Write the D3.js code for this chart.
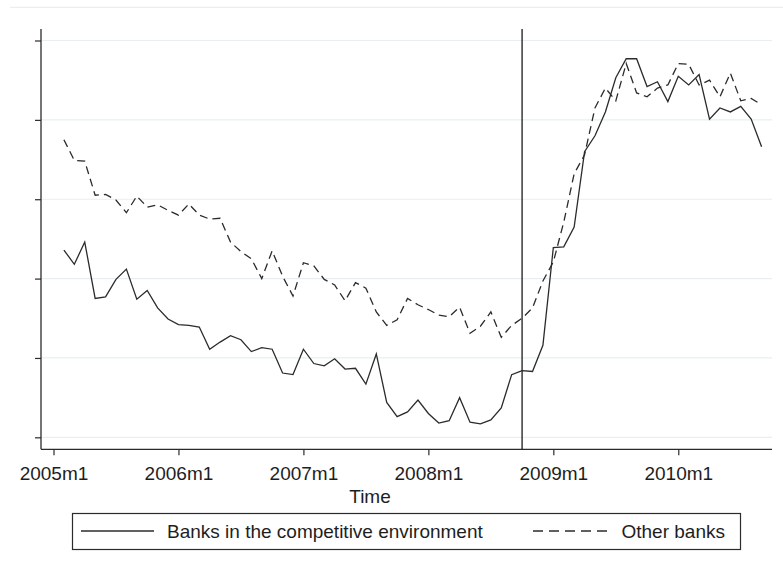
<!DOCTYPE html>
<html>
<head>
<meta charset="utf-8">
<script src="https://cdn.jsdelivr.net/npm/d3@7"></script>
<style>
  html, body { margin: 0; padding: 0; background: #fff; }
  svg { display: block; }
  text { font-family: "Liberation Sans", Arial, sans-serif; fill: #1e1e1e; }
</style>
</head>
<body>
<svg id="chart" width="783" height="562"></svg>
<script>
// Monthly series, first observation 2005m2 (month 1 counted from 2005m1)
const firstMonth = 1;

// Banks in the competitive environment
const competitive = [
  2.36, 2.18, 2.46, 1.75, 1.77, 1.99, 2.12, 1.74, 1.85, 1.63, 1.49,
  1.42, 1.41, 1.39, 1.11, 1.20, 1.28, 1.23, 1.08, 1.13, 1.11, 0.81, 0.79,
  1.11, 0.93, 0.90, 0.99, 0.86, 0.87, 0.67, 1.05, 0.44, 0.26, 0.32, 0.47,
  0.30, 0.18, 0.21, 0.50, 0.19, 0.17, 0.22, 0.37, 0.79, 0.84, 0.83, 1.16,
  2.39, 2.40, 2.65, 3.60, 3.80, 4.10, 4.53, 4.77, 4.77, 4.42, 4.48, 4.23,
  4.55, 4.44, 4.57, 4.01, 4.15, 4.10, 4.17, 4.01, 3.66
];

// Other banks
const otherBanks = [
  3.75, 3.49, 3.48, 3.05, 3.06, 2.99, 2.83, 3.04, 2.90, 2.93, 2.86,
  2.80, 2.94, 2.80, 2.75, 2.76, 2.46, 2.34, 2.25, 2.00, 2.35, 2.03, 1.78,
  2.20, 2.16, 1.99, 1.92, 1.72, 1.95, 1.88, 1.58, 1.41, 1.48, 1.75, 1.67,
  1.61, 1.54, 1.52, 1.64, 1.31, 1.40, 1.58, 1.26, 1.41, 1.50, 1.63, 1.97,
  2.21, 2.71, 3.32, 3.56, 4.15, 4.40, 4.24, 4.71, 4.34, 4.29, 4.40, 4.44,
  4.71, 4.70, 4.44, 4.50, 4.29, 4.59, 4.24, 4.27, 4.19
];

// Axis ticks
const xTickMonths = [0, 12, 24, 36, 48, 60];
const xTickLabels = ["2005m1", "2006m1", "2007m1", "2008m1", "2009m1", "2010m1"];
const yTicks = [0, 1, 2, 3, 4, 5];
const breakMonth = 45; // 2008m10 reference line

const legendLabels = ["Banks in the competitive environment", "Other banks"];

const svg = d3.select("#chart");

const plot = { left: 41, right: 772, top: 29, bottom: 449.3 };

const x = d3.scaleLinear().domain([-1.2, 69]).range([plot.left, plot.right]);
const y = d3.scaleLinear().domain([-0.151, 5.145]).range([plot.bottom, plot.top]);

const ink = "#2b2b2b";
const gridColor = "#e6eff1";

// Outer region edge at the top
svg.append("line")
  .attr("x1", 10).attr("x2", 783)
  .attr("y1", 7.3).attr("y2", 7.3)
  .attr("stroke", gridColor).attr("stroke-width", 1.2);

// Horizontal gridlines
svg.append("g")
  .selectAll("line")
  .data(yTicks)
  .join("line")
  .attr("x1", plot.left).attr("x2", plot.right)
  .attr("y1", d => y(d)).attr("y2", d => y(d))
  .attr("stroke", gridColor).attr("stroke-width", 1.2);

// Y axis (ticks without labels)
const yAxis = svg.append("g")
  .attr("transform", `translate(${plot.left},0)`)
  .call(d3.axisLeft(y).tickValues(yTicks).tickSize(6).tickFormat(""));
yAxis.select(".domain").remove();
yAxis.selectAll(".tick line").attr("stroke", ink).attr("stroke-width", 1.2);
svg.append("line")
  .attr("x1", plot.left).attr("x2", plot.left)
  .attr("y1", plot.top).attr("y2", plot.bottom)
  .attr("stroke", ink).attr("stroke-width", 1.3);

// X axis
const xAxis = svg.append("g")
  .attr("transform", `translate(0,${plot.bottom})`)
  .call(d3.axisBottom(x)
    .tickValues(xTickMonths)
    .tickSize(6)
    .tickPadding(11)
    .tickFormat((d, i) => xTickLabels[i]));
xAxis.select(".domain").remove();
xAxis.selectAll(".tick line").attr("stroke", ink).attr("stroke-width", 1.2);
xAxis.selectAll(".tick text")
  .attr("font-size", 19)
  .attr("font-family", "'Liberation Sans', Arial, sans-serif")
  .attr("fill", "#1e1e1e");
svg.append("line")
  .attr("x1", plot.left).attr("x2", plot.right)
  .attr("y1", plot.bottom).attr("y2", plot.bottom)
  .attr("stroke", ink).attr("stroke-width", 1.3);

// X axis title
svg.append("text")
  .attr("x", 370).attr("y", 503)
  .attr("text-anchor", "middle")
  .attr("font-size", 19)
  .text("Time");

// Reference line at 2008m10
svg.append("line")
  .attr("x1", x(breakMonth)).attr("x2", x(breakMonth))
  .attr("y1", plot.top).attr("y2", plot.bottom)
  .attr("stroke", "#1a1a1a").attr("stroke-width", 1.3);

// Series lines
const line = d3.line()
  .x((d, i) => x(firstMonth + i))
  .y(d => y(d));

svg.append("path")
  .datum(otherBanks)
  .attr("d", line)
  .attr("fill", "none")
  .attr("stroke", ink)
  .attr("stroke-width", 1.3)
  .attr("stroke-dasharray", "8,5");

svg.append("path")
  .datum(competitive)
  .attr("d", line)
  .attr("fill", "none")
  .attr("stroke", ink)
  .attr("stroke-width", 1.3);

// Legend
const legend = svg.append("g");
legend.append("rect")
  .attr("x", 72.5).attr("y", 513.5)
  .attr("width", 668).attr("height", 36)
  .attr("fill", "#fff")
  .attr("stroke", ink).attr("stroke-width", 1.2);

legend.append("line")
  .attr("x1", 81).attr("x2", 154)
  .attr("y1", 531).attr("y2", 531)
  .attr("stroke", ink).attr("stroke-width", 1.3);
legend.append("text")
  .attr("x", 167).attr("y", 538)
  .attr("font-size", 19)
  .text(legendLabels[0]);

legend.append("line")
  .attr("x1", 533).attr("x2", 609)
  .attr("y1", 531).attr("y2", 531)
  .attr("stroke", ink).attr("stroke-width", 1.3)
  .attr("stroke-dasharray", "10,6");
legend.append("text")
  .attr("x", 621.5).attr("y", 538)
  .attr("font-size", 19)
  .text(legendLabels[1]);
</script>
</body>
</html>
